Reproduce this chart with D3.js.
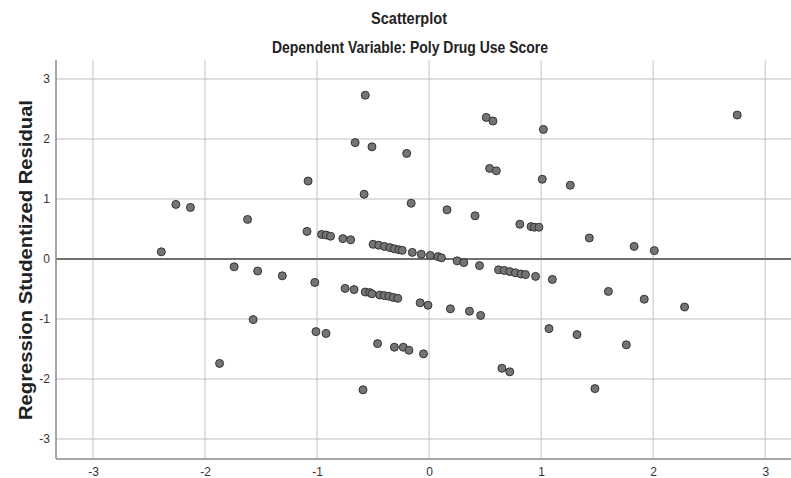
<!DOCTYPE html>
<html>
<head>
<meta charset="utf-8">
<script src="https://cdn.jsdelivr.net/npm/d3@7"></script>
<style>
  body { margin: 0; background: #fff; }
  svg { display: block; }
</style>
</head>
<body>
<div class="chart"></div>
<script>
var width = 791;
var height = 478;

// regression standardized predicted value (x) and studentized residual (y)
var predicted = [-2.39, -2.26, -2.13, -1.87, -1.74, -1.62, -1.57, -1.53, -1.31, -1.09,
  -1.08, -1.02, -1.01, -0.96, -0.92, -0.92, -0.88, -0.77, -0.75, -0.70,
  -0.67, -0.66, -0.59, -0.58, -0.57, -0.57, -0.53, -0.51, -0.51, -0.50,
  -0.46, -0.45, -0.44, -0.40, -0.40, -0.36, -0.35, -0.32, -0.31, -0.31,
  -0.28, -0.27, -0.24, -0.23, -0.20, -0.18, -0.16, -0.15, -0.08, -0.07,
  -0.05, -0.01, 0.01, 0.08, 0.11, 0.16, 0.19, 0.25, 0.31, 0.36,
  0.41, 0.45, 0.46, 0.51, 0.54, 0.57, 0.60, 0.62, 0.65, 0.67,
  0.72, 0.72, 0.77, 0.81, 0.82, 0.86, 0.91, 0.94, 0.95, 0.98,
  1.01, 1.02, 1.07, 1.10, 1.26, 1.32, 1.43, 1.48, 1.60, 1.76,
  1.83, 1.92, 2.01, 2.28, 2.75];
var residual = [0.12, 0.91, 0.86, -1.74, -0.13, 0.66, -1.01, -0.20, -0.28, 0.46,
  1.30, -0.39, -1.21, 0.41, 0.40, -1.24, 0.38, 0.34, -0.49, 0.32,
  -0.51, 1.94, -2.18, 1.08, 2.73, -0.55, -0.56, 1.87, -0.58, 0.245,
  -1.41, 0.23, -0.60, 0.21, -0.61, -0.62, 0.19, -0.64, 0.17, -1.47,
  -0.655, 0.155, 0.145, -1.47, 1.76, -1.52, 0.93, 0.11, -0.73, 0.08,
  -1.58, -0.77, 0.06, 0.04, 0.02, 0.82, -0.83, -0.03, -0.06, -0.87,
  0.72, -0.11, -0.94, 2.36, 1.51, 2.30, 1.47, -0.18, -1.82, -0.19,
  -1.88, -0.21, -0.23, 0.58, -0.25, -0.26, 0.54, 0.53, -0.29, 0.53,
  1.33, 2.16, -1.16, -0.34, 1.23, -1.26, 0.35, -2.16, -0.54, -1.43,
  0.21, -0.67, 0.14, -0.80, 2.40];

var xTicks = [-3, -2, -1, 0, 1, 2, 3];
var yTicks = [-3, -2, -1, 0, 1, 2, 3];

var title = "Scatterplot";
var subtitle = "Dependent Variable: Poly Drug Use Score";
var yTitle = "Regression Studentized Residual";

var points = predicted.map(function(d, i) { return {x: d, y: residual[i]}; });

// plot box (note: "top" is a reserved window property, so prefixed names)
var plotLeft = 56, plotRight = 791, plotTop = 60, plotBottom = 459;

var x = d3.scaleLinear().domain([-3.33, 3.23]).range([plotLeft, plotRight]);
var y = d3.scaleLinear().domain([-3.333, 3.317]).range([plotBottom, plotTop]);

var svg = d3.select(".chart")
  .append("svg")
    .attr("width", width)
    .attr("height", height);

// gridlines
svg.append("g").attr("class", "ygrid")
  .selectAll("line").data(yTicks).enter().append("line")
    .attr("x1", plotLeft).attr("x2", plotRight)
    .attr("y1", function(d) { return y(d); })
    .attr("y2", function(d) { return y(d); })
    .attr("stroke", "#d4d4d4")
    .attr("stroke-width", 1.5);

svg.append("g").attr("class", "xgrid")
  .selectAll("line").data(xTicks).enter().append("line")
    .attr("x1", function(d) { return x(d); })
    .attr("x2", function(d) { return x(d); })
    .attr("y1", plotTop).attr("y2", plotBottom)
    .attr("stroke", "#c4c4c4")
    .attr("stroke-width", 1);

// zero reference line
svg.append("line")
  .attr("x1", plotLeft).attr("x2", plotRight)
  .attr("y1", y(0)).attr("y2", y(0))
  .attr("stroke", "#707070")
  .attr("stroke-width", 2);

// axes (no tick marks, just labels)
var fmt = function(d) { return String(d); };
var xAxis = d3.axisBottom(x).tickValues(xTicks).tickSize(0).tickPadding(8).tickFormat(fmt);
var yAxis = d3.axisLeft(y).tickValues(yTicks).tickSize(0).tickPadding(6).tickFormat(fmt);

var gx = svg.append("g").attr("transform", "translate(0," + plotBottom + ")").call(xAxis);
var gy = svg.append("g").attr("transform", "translate(" + plotLeft + ",0)").call(yAxis);

[gx, gy].forEach(function(g) {
  g.select(".domain").attr("stroke", "#8a8a8a").attr("stroke-width", 1.5);
  g.selectAll("text")
    .attr("fill", "#333")
    .style("font-family", "'Liberation Sans Narrow', 'Liberation Sans', Arial, sans-serif")
    .style("font-size", "12px");
});
gx.select(".domain").attr("d", "M" + plotLeft + ",0H" + plotRight);
gy.select(".domain").attr("d", "M0," + plotTop + "V" + plotBottom);

// points
svg.append("g").attr("class", "points")
  .selectAll("circle").data(points).enter().append("circle")
    .attr("cx", function(d) { return x(d.x); })
    .attr("cy", function(d) { return y(d.y); })
    .attr("r", 4)
    .attr("fill", "#747474")
    .attr("stroke", "#333")
    .attr("stroke-width", 1);

// titles
svg.append("text")
  .attr("x", 409).attr("y", 24)
  .attr("text-anchor", "middle")
  .attr("textLength", 76).attr("lengthAdjust", "spacingAndGlyphs")
  .style("font-family", "'Liberation Sans Narrow', 'Liberation Sans', Arial, sans-serif")
  .style("font-weight", "bold").style("font-size", "17px")
  .attr("fill", "#222")
  .text(title);

svg.append("text")
  .attr("x", 410).attr("y", 53)
  .attr("text-anchor", "middle")
  .attr("textLength", 276).attr("lengthAdjust", "spacingAndGlyphs")
  .style("font-family", "'Liberation Sans Narrow', 'Liberation Sans', Arial, sans-serif")
  .style("font-weight", "bold").style("font-size", "17px")
  .attr("fill", "#222")
  .text(subtitle);

svg.append("text")
  .attr("transform", "translate(32,260) rotate(-90)")
  .attr("text-anchor", "middle")
  .attr("textLength", 320).attr("lengthAdjust", "spacingAndGlyphs")
  .style("font-family", "'Liberation Sans', Arial, sans-serif")
  .style("font-weight", "bold").style("font-size", "19px")
  .attr("fill", "#222")
  .text(yTitle);
</script>
</body>
</html>
